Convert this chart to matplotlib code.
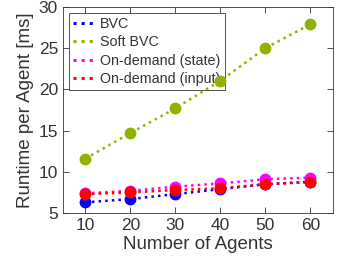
import matplotlib
matplotlib.use("Agg")
import matplotlib.pyplot as plt
from matplotlib.lines import Line2D

agents = [10, 20, 30, 40, 50, 60]
bvc = [6.3, 6.7, 7.3, 7.9, 8.5, 8.8]
soft_bvc = [11.6, 14.7, 17.7, 21.05, 25.0, 27.9]
od_state = [7.4, 7.7, 8.2, 8.6, 9.1, 9.3]
od_input = [7.3, 7.5, 7.8, 8.0, 8.5, 8.75]

labels = ["BVC", "Soft BVC", "On-demand (state)", "On-demand (input)"]
colors = ["#0000ff", "#8fb300", "#ff00ff", "#ff0000"]

plt.rcParams['font.family'] = ['Liberation Sans', 'DejaVu Sans']
txt = '#333333'

fig = plt.figure(figsize=(3.38, 2.66), dpi=100)
ax = fig.add_axes([0.186, 0.199, 0.799, 0.775])

handles = []
for ys, c, lab in zip([bvc, soft_bvc, od_state, od_input], colors, labels):
    ax.plot(agents, ys, linestyle=':', linewidth=1.8, color=c,
            marker='o', markersize=7.5, markeredgecolor=c, zorder=3)
    handles.append(Line2D([], [], linestyle=':', linewidth=2.2, color=c, label=lab))

ax.set_xlim(5, 65)
ax.set_ylim(5, 30)
ax.set_xticks(agents)
ax.set_yticks([5, 10, 15, 20, 25, 30])
ax.tick_params(direction='in', top=True, right=True, labelsize=12.5,
               colors=txt, length=4, width=0.6)
for s in ax.spines.values():
    s.set_color(txt)
    s.set_linewidth(0.6)
ax.set_xlabel("Number of Agents", fontsize=13.5, color=txt, labelpad=2)
ax.set_ylabel("Runtime per Agent [ms]", fontsize=13.5, color=txt, labelpad=3)

leg = ax.legend(handles=handles, loc='upper left', fontsize=10.3, frameon=True,
                fancybox=False, edgecolor=txt, handlelength=1.6,
                handletextpad=0.3, labelspacing=0.3, borderpad=0.3,
                borderaxespad=0.4, framealpha=1)
leg.get_frame().set_linewidth(0.6)
leg.set_zorder(2)
for t in leg.get_texts():
    t.set_color(txt)

fig.savefig("out.png", dpi=100)
